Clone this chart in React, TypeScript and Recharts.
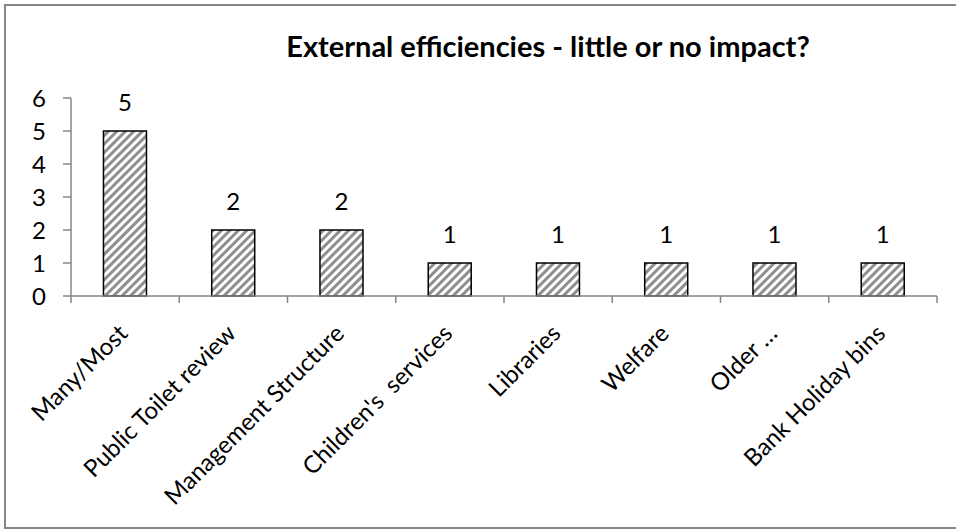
import { Bar, BarChart, LabelList, XAxis, YAxis } from 'recharts';

const categories = [
    'Many/Most',
    'Public Toilet review',
    'Management Structure',
    "Children's  services",
    'Libraries',
    'Welfare',
    'Older …',
    'Bank Holiday bins',
];
const counts = [5, 2, 2, 1, 1, 1, 1, 1];
const yTicks = [0, 1, 2, 3, 4, 5, 6];
const TITLE = 'External efficiencies - little or no impact?';

const FONT = 'Lato, "Open Sans", sans-serif';
const AXIS_GREY = '#868686';

const data = categories.map((name, i) => ({ name, value: counts[i] }));

// rotated category label + tick marks at the band edges (Excel style)
const CategoryTick = (props: any) => {
    const { x, y, payload, index, visibleTicksCount } = props;
    const half = payload?.offset ?? 54;
    const axisY = y - 8;
    const isLast = index === visibleTicksCount - 1;
    return (
        <g>
            <line x1={x - half} x2={x - half} y1={axisY} y2={axisY + 7} stroke={AXIS_GREY} strokeWidth={1.5} />
            {isLast && (
                <line x1={x + half} x2={x + half} y1={axisY} y2={axisY + 7} stroke={AXIS_GREY} strokeWidth={1.5} />
            )}
            <text
                x={x + 4}
                y={axisY + 39}
                textAnchor="end"
                transform={`rotate(-45, ${x + 4}, ${axisY + 39})`}
                fontFamily={FONT}
                fontSize={24}
                fill="#000"
                style={{ whiteSpace: 'pre' }}
            >
                {payload.value}
            </text>
        </g>
    );
};

export default function App() {
    return (
        <div
            style={{
                position: 'absolute',
                left: 0,
                top: 0,
                width: 956,
                height: 532,
                overflow: 'hidden',
                background: '#fff',
            }}
        >
            <div
                style={{
                    position: 'absolute',
                    left: 4,
                    top: 4,
                    width: 980,
                    height: 525,
                    border: `2px solid ${AXIS_GREY}`,
                    boxSizing: 'border-box',
                }}
            />
            <BarChart
                width={956}
                height={532}
                data={data}
                margin={{ top: 98, right: 19, bottom: 6, left: 0 }}
                barCategoryGap="30%"
                style={{ position: 'absolute', left: 0, top: 0 }}
            >
                <defs>
                    <pattern
                        id="hatch"
                        patternUnits="userSpaceOnUse"
                        width={6}
                        height={6}
                        patternTransform="rotate(45)"
                    >
                        <rect width={6} height={6} fill="#ffffff" />
                        <rect width={3} height={6} fill="#8f8f8f" />
                    </pattern>
                </defs>
                <XAxis
                    dataKey="name"
                    interval={0}
                    height={230}
                    tickLine={false}
                    tickSize={6}
                    tickMargin={2}
                    axisLine={{ stroke: AXIS_GREY, strokeWidth: 1.5 }}
                    tick={<CategoryTick />}
                />
                <YAxis
                    width={71}
                    domain={[0, 6]}
                    ticks={yTicks}
                    interval={0}
                    tickSize={8}
                    tickMargin={17}
                    axisLine={{ stroke: AXIS_GREY, strokeWidth: 1.5 }}
                    tickLine={{ stroke: AXIS_GREY, strokeWidth: 1.5 }}
                    tick={{ fill: '#000', fontSize: 24, fontFamily: FONT }}
                />
                <Bar dataKey="value" fill="url(#hatch)" stroke="#000" strokeWidth={1.5} isAnimationActive={false}>
                    <LabelList
                        dataKey="value"
                        position="top"
                        offset={20}
                        fill="#000"
                        fontSize={24}
                        fontFamily={FONT}
                    />
                </Bar>
            </BarChart>
            <svg
                width={956}
                height={532}
                style={{ position: 'absolute', left: 0, top: 0, pointerEvents: 'none' }}
            >
                <text x={548} y={57} textAnchor="middle" fontFamily={FONT} fontWeight="bold" fontSize={29} fill="#000">
                    {TITLE}
                </text>
            </svg>
        </div>
    );
}
